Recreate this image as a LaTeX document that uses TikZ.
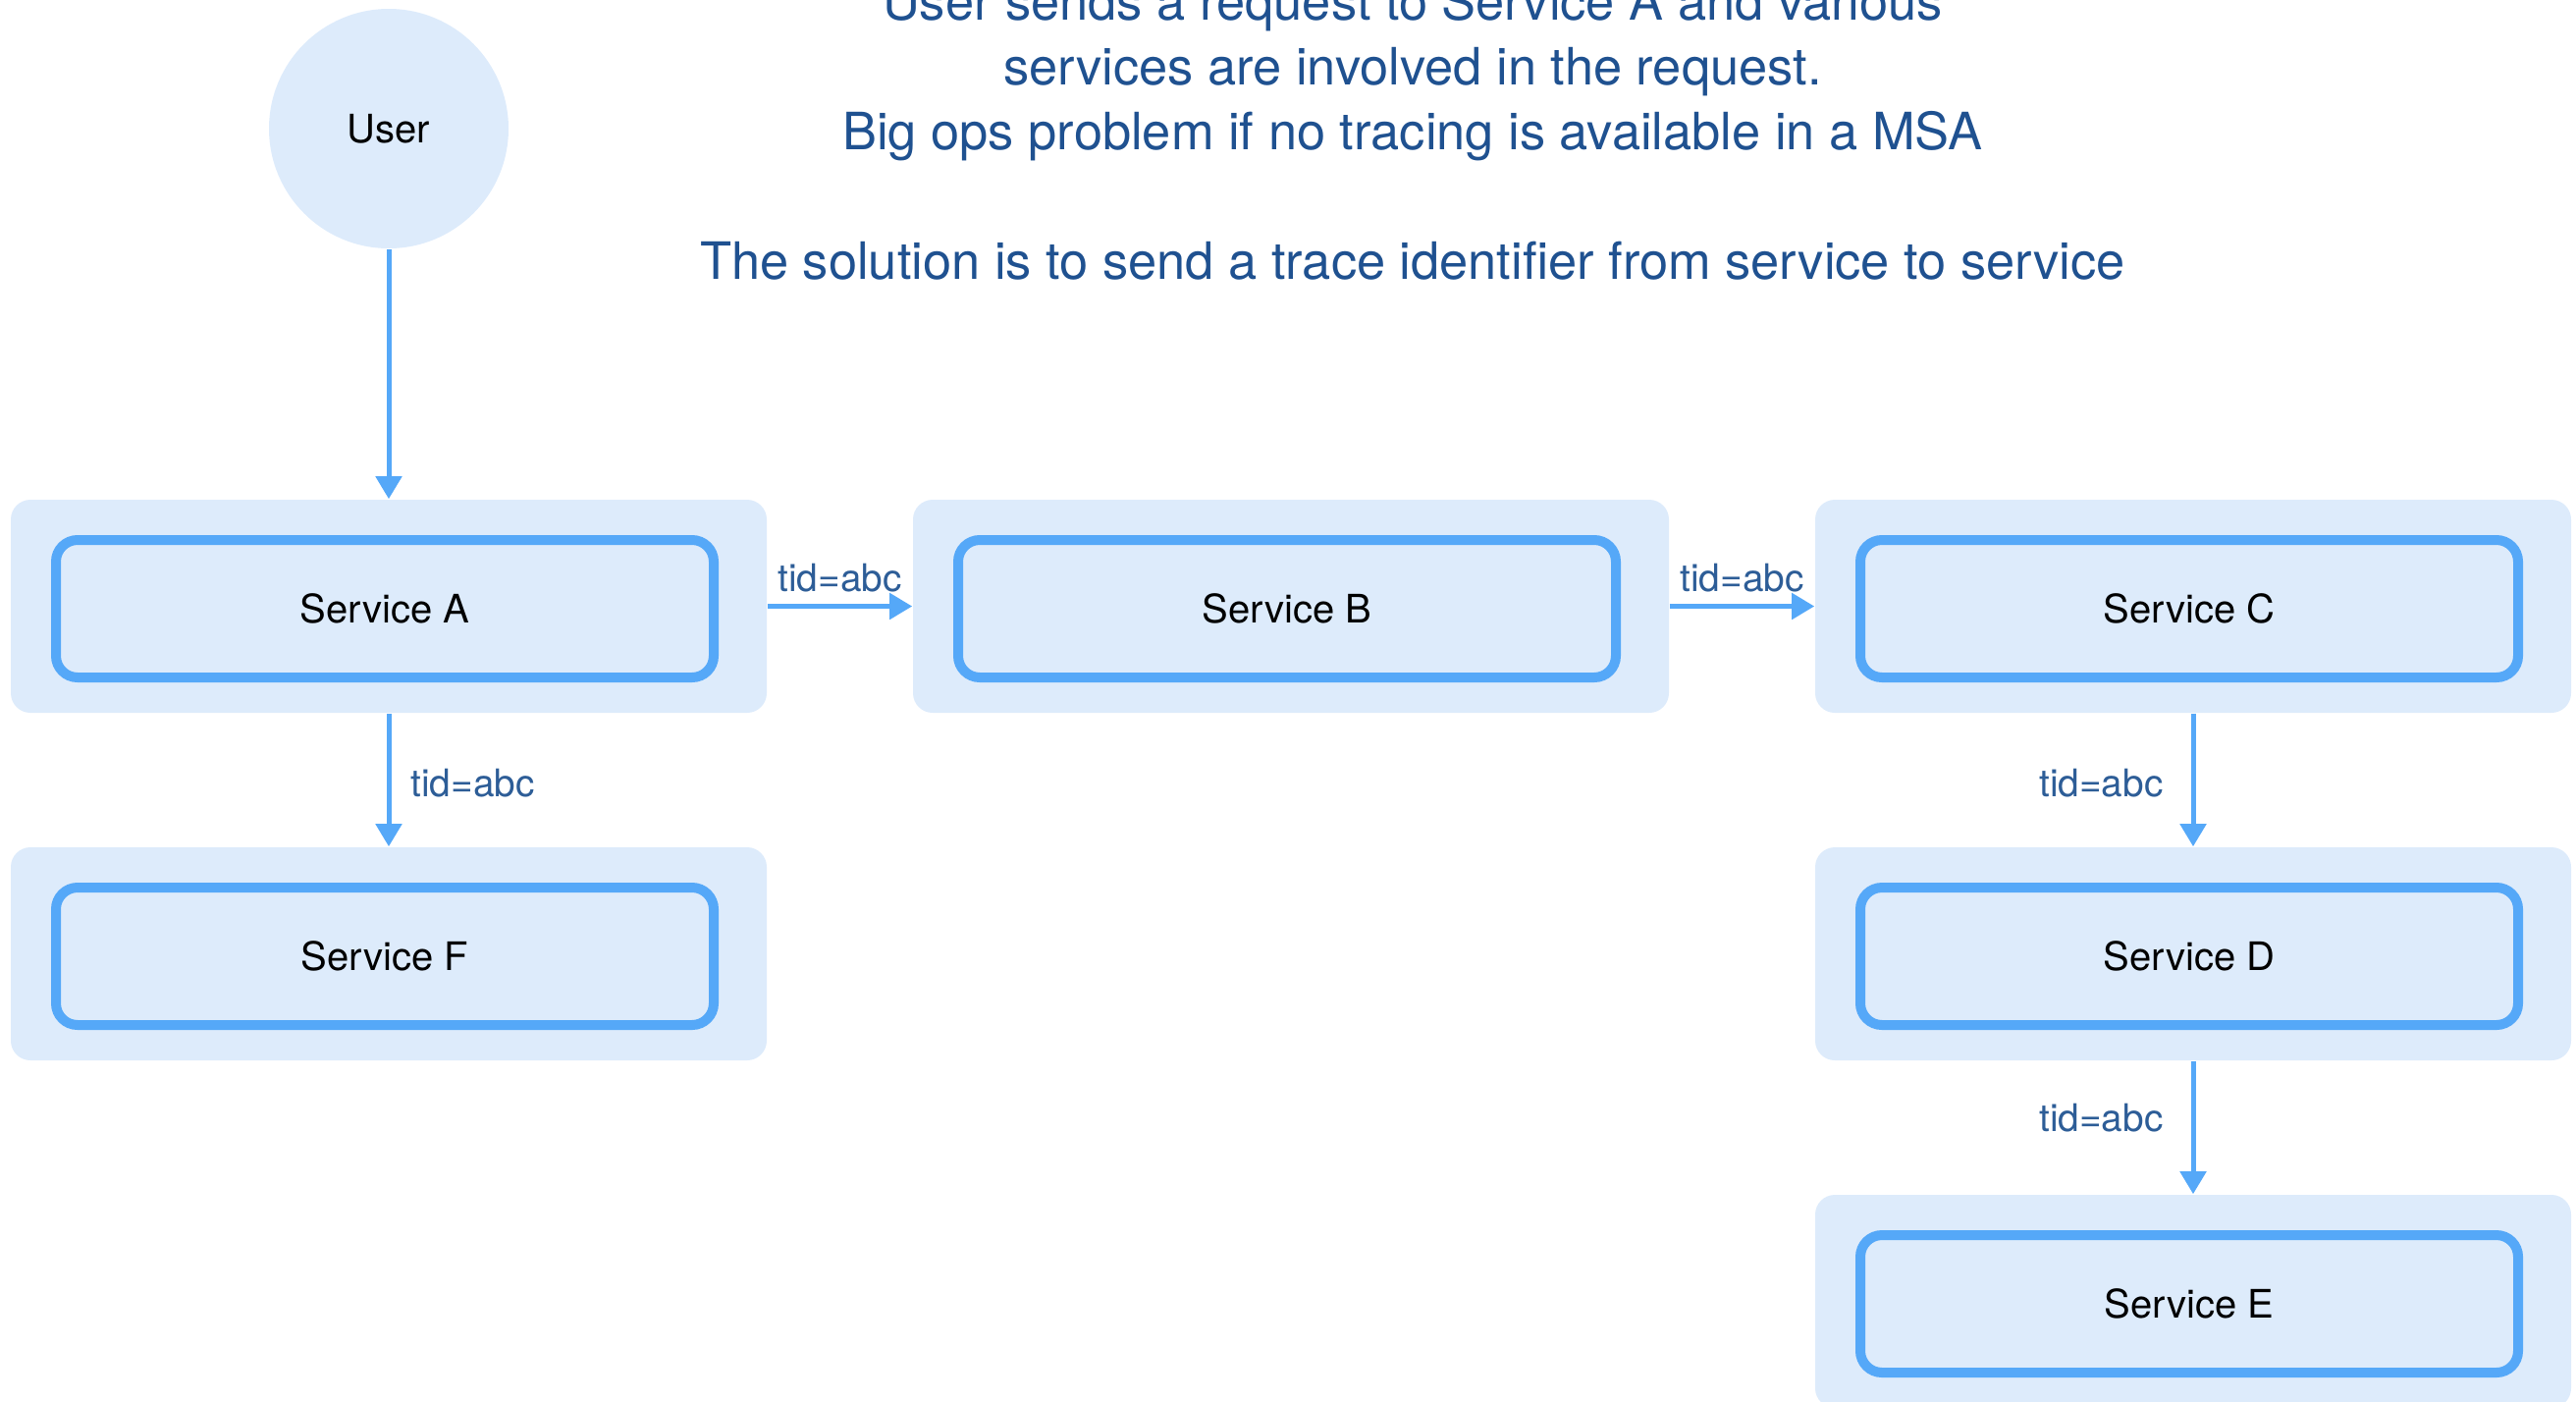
\documentclass[tikz,border=0pt]{standalone}
\usepackage{fontspec}
\setmainfont{TeX Gyre Heros}
\usetikzlibrary{arrows.meta}
\definecolor{paneFill}{HTML}{DDEBFB}
\definecolor{lineBlue}{HTML}{55A8F8}
\definecolor{titleBlue}{HTML}{1F5190}
\definecolor{labelBlue}{HTML}{2D5D97}
\begin{document}
\begin{tikzpicture}[x=0.25pt,y=-0.25pt,
  pane/.style={fill=paneFill, draw=none, rounded corners=5pt, inner sep=0pt,
    minimum width=192.5pt, minimum height=54.25pt},
  svc/.style={draw=lineBlue, line width=2.5pt, fill=paneFill, rounded corners=5.5pt,
    minimum width=167.5pt, minimum height=35pt, inner sep=0pt, text=black,
    font=\fontsize{10}{12}\selectfont},
  flow/.style={draw=lineBlue, line width=1.25pt, -{Triangle[width=6.5pt,length=5.75pt]}},
  tag/.style={text=labelBlue, inner sep=0pt, font=\fontsize{9.7}{11}\selectfont},
  headline/.style={text=titleBlue, inner sep=0pt, anchor=base, font=\fontsize{13.1}{15}\selectfont}]
\path[use as bounding box, clip] (0,0) rectangle (2624,1427);

% heading text
\node[headline] (t1) at (1439,20) {User sends a request to Service A and various};
\node[headline] (t2) at (1439,86) {services are involved in the request.};
\node[headline] (t3) at (1439,152) {Big ops problem if no tracing is available in a MSA};
\node[headline] (t4) at (1439,284) {The solution is to send a trace identifier from service to service};

% the caller
\node[circle, fill=paneFill, minimum size=61pt, inner sep=0pt,
  font=\fontsize{10}{12}\selectfont] (user) at (396,131) {User};

% service panes
\node[pane] (paneA) at (396,617.5) {};
\node[pane] (paneB) at (1315,617.5) {};
\node[pane] (paneC) at (2234,617.5) {};
\node[pane] (paneF) at (396,971.5) {};
\node[pane] (paneD) at (2234,971.5) {};
\node[pane] (paneE) at (2234,1325.5) {};

\node[svc] (svcA) at (392,620) {Service A};
\node[svc] (svcB) at (1311,620) {Service B};
\node[svc] (svcC) at (2230,620) {Service C};
\node[svc] (svcF) at (392,974) {Service F};
\node[svc] (svcD) at (2230,974) {Service D};
\node[svc] (svcE) at (2230,1328) {Service E};

% request flow carrying the trace id
\draw[flow] (user) -- (paneA);
\draw[flow] (paneA) -- node[tag, above=3pt] (lab) {tid=abc} (paneB);
\draw[flow] (paneB) -- node[tag, above=3pt] (lbc) {tid=abc} (paneC);
\draw[flow] (paneA) -- node[tag, right=5pt, pos=0.52] (laf) {tid=abc} (paneF);
\draw[flow] (paneC) -- node[tag, left=7pt, pos=0.52] (lcd) {tid=abc} (paneD);
\draw[flow] (paneD) -- node[tag, left=7pt, pos=0.43] (lde) {tid=abc} (paneE);
\end{tikzpicture}
\end{document}
